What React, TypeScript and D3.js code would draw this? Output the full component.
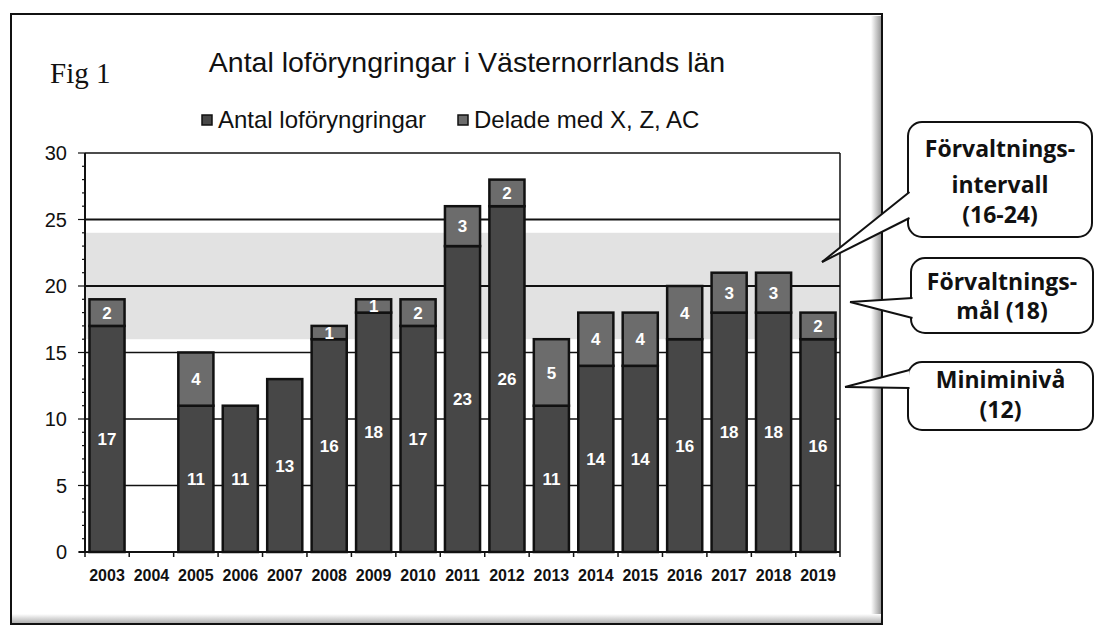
import React from 'react';
import * as d3 from 'd3';

// data
const years = ['2003', '2004', '2005', '2006', '2007', '2008', '2009', '2010', '2011', '2012', '2013', '2014', '2015', '2016', '2017', '2018', '2019'];
const antal = [17, 0, 11, 11, 13, 16, 18, 17, 23, 26, 11, 14, 14, 16, 18, 18, 16];
const delade = [2, 0, 4, 0, 0, 1, 1, 2, 3, 2, 5, 4, 4, 4, 3, 3, 2];
const yTicks = [0, 5, 10, 15, 20, 25, 30];
const interval = [16, 24];
const legendLabels = ['Antal loföryngringar', 'Delade med X, Z, AC'];

const W = 1096;
const H = 628;
const plot = { left: 85, right: 840, top: 153, bottom: 552 };

const x = d3.scaleBand().domain(years).range([plot.left, plot.right]).paddingInner(0.21).paddingOuter(0.1);
const y = d3.scaleLinear().domain([0, 30]).range([plot.bottom, plot.top]);

const darkFill = '#474747';
const midFill = '#6c6c6c';
const arial = '"Liberation Sans", Arial, sans-serif';
const calibri = '"Open Sans", "Noto Sans", sans-serif';

const Callout = ({ box, base, tip, lines, lineY }) => (
  <g>
    <rect x={box.x} y={box.y} width={box.w} height={box.h} rx={14} fill="white" stroke="#111" strokeWidth={2} />
    <polygon points={`${base[0][0]},${base[0][1]} ${tip[0]},${tip[1]} ${base[1][0]},${base[1][1]}`} fill="white" />
    <line x1={base[0][0]} y1={base[0][1]} x2={tip[0]} y2={tip[1]} stroke="#111" strokeWidth={2} />
    <line x1={base[1][0]} y1={base[1][1]} x2={tip[0]} y2={tip[1]} stroke="#111" strokeWidth={2} />
    {lines.map((t, i) => (
      <text key={i} x={box.x + box.w / 2} y={lineY[i]} textAnchor="middle" fontFamily={calibri} fontWeight="bold" fontSize={23} fill="#111">{t}</text>
    ))}
  </g>
);

export default function App() {
  const minor = d3.range(0, 31);
  const edges = d3.range(0, years.length + 1).map(i => i === 0 ? plot.left : i === years.length ? plot.right : x(years[i]) - x.step() * x.paddingInner() / 2);

  return (
    <svg width={W} height={H} style={{ position: 'absolute', left: 0, top: 0, background: 'white' }}>
      <defs>
        <linearGradient id="shadowR" x1="0" x2="1" y1="0" y2="0">
          <stop offset="0%" stopColor="#fff" />
          <stop offset="100%" stopColor="#9a9a9a" />
        </linearGradient>
        <linearGradient id="shadowB" x1="0" x2="0" y1="0" y2="1">
          <stop offset="0%" stopColor="#fff" />
          <stop offset="100%" stopColor="#b0b0b0" />
        </linearGradient>
      </defs>

      {/* outer frame */}
      <rect x={871} y={16} width={10} height={607} fill="url(#shadowR)" />
      <rect x={12} y={614} width={869} height={9} fill="url(#shadowB)" />
      <rect x={11} y={14} width={871} height={610} fill="none" stroke="#111" strokeWidth={2} />

      <text x={50} y={83} fontFamily='"Liberation Serif", "DejaVu Serif", serif' fontSize={29} fill="#111">Fig 1</text>
      <text x={467} y={72} textAnchor="middle" fontFamily={arial} fontSize={28.5} fill="#111">Antal loföryngringar i Västernorrlands län</text>

      {/* legend */}
      {legendLabels.map((l, i) => {
        const lx = i === 0 ? 202 : 458;
        return (
          <g key={l}>
            <rect x={lx} y={115} width={10} height={10} fill={i === 0 ? darkFill : midFill} stroke="#111" strokeWidth={1.5} />
            <text x={lx + 16} y={128} fontFamily={arial} fontSize={24} fill="#111">{l}</text>
          </g>
        );
      })}

      {/* management interval band */}
      <rect x={plot.left} y={y(interval[1])} width={plot.right - plot.left} height={y(interval[0]) - y(interval[1])} fill="#e2e2e2" />

      {/* gridlines */}
      {yTicks.filter(t => t > 0).map(t => (
        <line key={t} x1={plot.left} x2={plot.right} y1={y(t)} y2={y(t)} stroke="#111" strokeWidth={t === 20 || t === 25 ? 2 : 1.3} />
      ))}
      <line x1={plot.right} x2={plot.right} y1={plot.top} y2={plot.bottom} stroke="#111" strokeWidth={1.5} />

      {/* bars */}
      {years.map((yr, i) => {
        const bx = x(yr);
        const bw = x.bandwidth();
        const total = antal[i] + delade[i];
        return (
          <g key={yr}>
            {antal[i] > 0 && (
              <rect x={bx} y={y(antal[i])} width={bw} height={y(0) - y(antal[i])} fill={darkFill} stroke="#111" strokeWidth={2.5} />
            )}
            {delade[i] > 0 && (
              <rect x={bx} y={y(total)} width={bw} height={y(antal[i]) - y(total)} fill={midFill} stroke="#111" strokeWidth={2.5} />
            )}
            {antal[i] > 0 && (
              <text x={bx + bw / 2} y={y(antal[i] / 2)} dy="0.36em" textAnchor="middle" fontFamily={arial} fontWeight="bold" fontSize={17} fill="white">{antal[i]}</text>
            )}
            {delade[i] > 0 && (
              <text x={bx + bw / 2} y={y(antal[i] + delade[i] / 2)} dy="0.36em" textAnchor="middle" fontFamily={arial} fontWeight="bold" fontSize={17} fill="white">{delade[i]}</text>
            )}
          </g>
        );
      })}

      {/* axes */}
      <line x1={plot.left} x2={plot.left} y1={plot.top} y2={plot.bottom} stroke="#111" strokeWidth={2} />
      <line x1={plot.left - 6} x2={plot.right} y1={plot.bottom} y2={plot.bottom} stroke="#111" strokeWidth={2} />
      {minor.map(t => (
        <line key={t} x1={plot.left - (t % 5 === 0 ? 7 : 3)} x2={plot.left} y1={y(t)} y2={y(t)} stroke="#111" strokeWidth={1.2} />
      ))}
      {yTicks.map(t => (
        <text key={t} x={67} y={y(t)} dy="0.36em" textAnchor="end" fontFamily={arial} fontSize={20} fill="#111">{t}</text>
      ))}
      {edges.map((e, i) => (
        <line key={i} x1={e} x2={e} y1={plot.bottom} y2={plot.bottom + 5} stroke="#111" strokeWidth={1.5} />
      ))}
      {years.map(yr => (
        <text key={yr} x={x(yr) + x.bandwidth() / 2} y={581} textAnchor="middle" fontFamily={arial} fontWeight="bold" fontSize={16} fill="#111">{yr}</text>
      ))}

      {/* callouts */}
      <Callout box={{ x: 908, y: 122, w: 184, h: 115 }} base={[[909.5, 192], [909.5, 218]]} tip={[822, 262]}
        lines={['Förvaltnings-', 'intervall', '(16-24)']} lineY={[157, 193, 223]} />
      <Callout box={{ x: 911, y: 258, w: 182, h: 75 }} base={[[912.5, 298], [912.5, 318]]} tip={[850, 302]}
        lines={['Förvaltnings-', 'mål (18)']} lineY={[290, 319]} />
      <Callout box={{ x: 908, y: 362, w: 185, h: 68 }} base={[[909.5, 370], [909.5, 388]]} tip={[845, 387]}
        lines={['Miniminivå', '(12)']} lineY={[388, 418]} />
    </svg>
  );
}
